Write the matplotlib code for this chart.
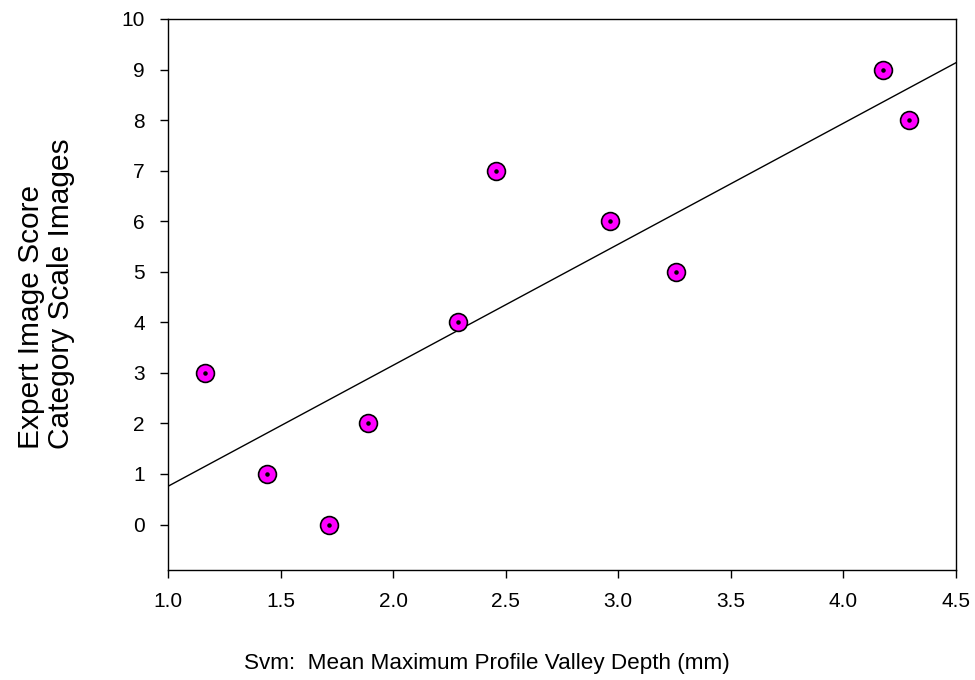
import numpy as np
import matplotlib
matplotlib.use("Agg")
import matplotlib.pyplot as plt

svm = [1.164, 1.44, 1.714, 1.887, 2.287, 2.455, 2.965, 3.258, 4.177, 4.292]
score = [3, 1, 0, 2, 4, 7, 6, 5, 9, 8]
xticks = [1.0, 1.5, 2.0, 2.5, 3.0, 3.5, 4.0, 4.5]
yticks = list(range(0, 11))

plt.rcParams['font.family'] = ['Liberation Sans', 'DejaVu Sans']

fig = plt.figure(figsize=(9.75, 6.8), dpi=100)
ax = fig.add_axes([168/975, 1-570/680, (956-168)/975, (570-19)/680])

slope, intercept = np.polyfit(svm, score, 1)
xl = np.array([1.0, 4.5])
ax.plot(xl, slope*xl + intercept, color='black', lw=1.0, zorder=2)
ax.scatter(svm, score, s=165, color='#ff00ff', edgecolor='black', linewidth=1.2, zorder=3)
ax.scatter(svm, score, s=5, color='black', zorder=4)

ax.set_xlim(1.0, 4.5)
ax.set_ylim(-0.9, 10)
ax.set_xticks(xticks)
ax.set_xticklabels([f"{v:.1f}" for v in xticks])
ax.set_yticks(yticks)
ax.tick_params(direction='out', length=5.8, width=1.0, labelsize=15)
ax.tick_params(axis='x', pad=10)
ax.tick_params(axis='y', pad=11)
for s in ax.spines.values():
    s.set_linewidth(1.0)

fig.text(487/975, 1-669/680, "Svm:  Mean Maximum Profile Valley Depth (mm)",
         fontsize=16.2, ha='center', va='baseline')
fig.text(46/975, 1-449/680, "Expert Image Score\nCategory Scale Images",
         fontsize=21.5, rotation=90, ha='center', va='bottom',
         multialignment='left', linespacing=1.05)

fig.savefig("out.png", dpi=100)
